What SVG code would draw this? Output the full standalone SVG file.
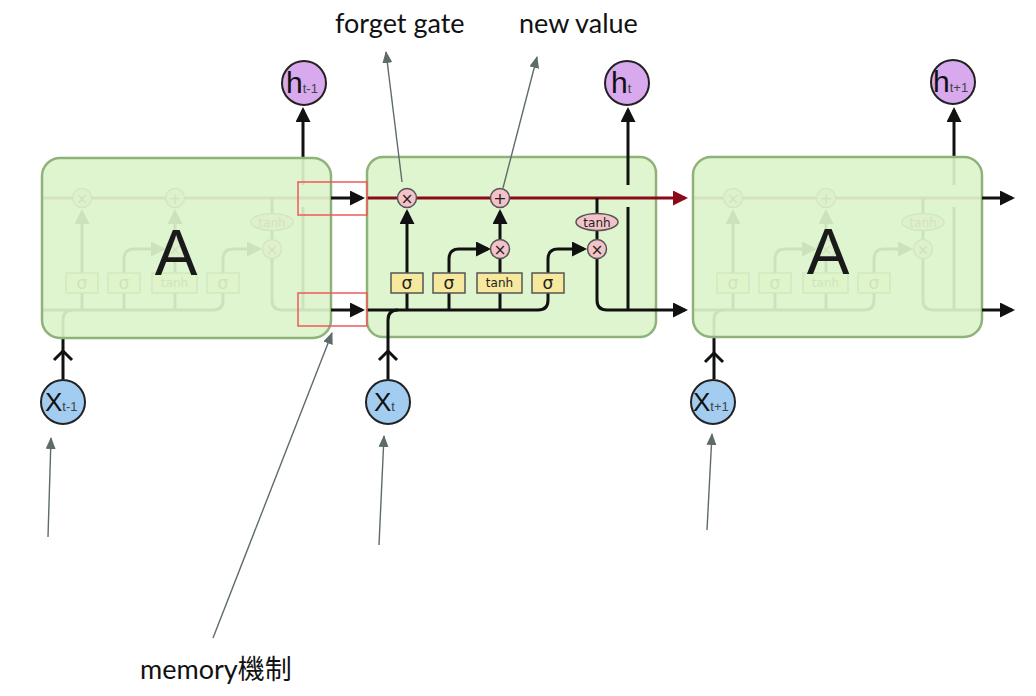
<svg xmlns="http://www.w3.org/2000/svg" xmlns:xlink="http://www.w3.org/1999/xlink" width="1036" height="696" viewBox="0 0 1036 696">
<style>
.ln{fill:none;stroke:#111;stroke-width:3}
.red{stroke:#8b0a1a}
.gate{fill:#f6e89c;stroke:#555;stroke-width:1.5}
.op{fill:#f4c3c9;stroke:#555;stroke-width:1.5}
.gt{font-family:"DejaVu Sans",sans-serif;fill:#222;text-anchor:middle}
.box{stroke:#8fb27a;stroke-width:2.5}
.A{font-family:"Liberation Sans",Arial,sans-serif;font-size:64px;fill:#1a1a1a;text-anchor:middle}
.hc{fill:#d9a9ee;stroke:#222;stroke-width:2}
.xc{fill:#a2cdf0;stroke:#222;stroke-width:2}
.big{font-family:"Liberation Sans",Arial,sans-serif;fill:#111}
.sub{font-size:13px;fill:#444}
.ann{fill:none;stroke:#5f6b6b;stroke-width:1.4;marker-end:url(#ga)}
.lab{font-family:Lato,"Noto Sans CJK TC",sans-serif;font-size:27px;fill:#111}
.rb{fill:none;stroke:#ef5a5a;stroke-width:1.5}
</style>
<defs>
<marker id="ah" markerUnits="userSpaceOnUse" markerWidth="16" markerHeight="16" refX="12" refY="7.5" orient="auto"><path d="M0,0 L15,7.5 L0,15 z" fill="#111"/></marker>
<marker id="ahr" markerUnits="userSpaceOnUse" markerWidth="16" markerHeight="16" refX="12" refY="7.5" orient="auto"><path d="M0,0 L15,7.5 L0,15 z" fill="#8b0a1a"/></marker>
<marker id="ga" markerUnits="userSpaceOnUse" markerWidth="14" markerHeight="12" refX="11" refY="5" orient="auto"><path d="M0,0 L12,5 L0,10 z" fill="#5f6b6b"/></marker>
<g id="core">
<path class="ln red" d="M367,198 H656"/>
<path class="ln" d="M367,310 H538 Q548,310 548,300 V293"/>
<path class="ln" d="M407,293 V310 M449,293 V310 M500,293 V310"/>
<path class="ln" d="M388,379 V320 Q388,310 398,310"/>
<path class="ln" d="M407,273 V212" marker-end="url(#ah)"/>
<path class="ln" d="M449,273 V259 Q449,249 459,249 H488" marker-end="url(#ah)"/>
<path class="ln" d="M500,273 V259"/>
<path class="ln" d="M500,239 V212" marker-end="url(#ah)"/>
<path class="ln" d="M548,273 V259 Q548,249 558,249 H584" marker-end="url(#ah)"/>
<path class="ln" d="M597,198 V214 M597,230 V239"/>
<path class="ln" d="M597,259 V300 Q597,310 607,310 H656"/>
<path class="ln" d="M628,310 V207"/>
<path class="ln" d="M628,185 V110" marker-end="url(#ah)"/>
<rect class="gate" x="391" y="273" width="32" height="20"/>
<rect class="gate" x="433" y="273" width="32" height="20"/>
<rect class="gate" x="477" y="273" width="45" height="20"/>
<rect class="gate" x="532" y="273" width="32" height="20"/>
<text class="gt" x="407" y="289" font-size="17">σ</text>
<text class="gt" x="449" y="289" font-size="17">σ</text>
<text class="gt" x="499.5" y="287" font-size="12">tanh</text>
<text class="gt" x="548" y="289" font-size="17">σ</text>
<circle class="op" cx="407" cy="198" r="9.5"/>
<circle class="op" cx="500" cy="198" r="9.5"/>
<circle class="op" cx="500" cy="249" r="9.5"/>
<circle class="op" cx="597" cy="249" r="9.5"/>
<ellipse class="op" cx="597" cy="222" rx="21" ry="8.5"/>
<text class="gt" x="407" y="203.5" font-size="15">×</text>
<text class="gt" x="500" y="203.5" font-size="16">+</text>
<text class="gt" x="500" y="254.5" font-size="15">×</text>
<text class="gt" x="597" y="254.5" font-size="15">×</text>
<text class="gt" x="597" y="226.5" font-size="12">tanh</text>
</g>
</defs>

<g id="cell-left">
<use xlink:href="#core" href="#core" transform="translate(-325,0)"/>
<rect class="box" x="42" y="158" width="289" height="180" rx="18" fill="#dcf4cc" fill-opacity="0.92"/>
<text class="A" x="176" y="275">A</text>
</g>
<g id="cell-right">
<use xlink:href="#core" href="#core" transform="translate(326,0)"/>
<rect class="box" x="693" y="157" width="289" height="180" rx="18" fill="#dcf4cc" fill-opacity="0.92"/>
<text class="A" x="828" y="274">A</text>
</g>
<g id="cell-mid">
<rect class="box" x="367" y="157" width="289" height="180" rx="16" fill="#dff5d0"/>
<use xlink:href="#core" href="#core"/>
</g>

<g id="connectors">
<path class="ln" d="M331,198 H362" marker-end="url(#ah)"/>
<path class="ln" d="M331,310 H362" marker-end="url(#ah)"/>
<path class="ln red" d="M656,198 H685" marker-end="url(#ahr)"/>
<path class="ln" d="M656,310 H685" marker-end="url(#ah)"/>
<path class="ln" d="M982,198 H1012" marker-end="url(#ah)"/>
<path class="ln" d="M982,310 H1012" marker-end="url(#ah)"/>
<polyline class="ln" points="54,360 63,351 72,360"/>
<polyline class="ln" points="379,360 388,351 397,360"/>
<polyline class="ln" points="705,362 714,353 723,362"/>
<path class="ann" d="M48,537 L51,438"/>
<path class="ann" d="M379,545 L384,436"/>
<path class="ann" d="M707,530 L712,434"/>
<path class="ann" d="M213,638 L332,333"/>
<path class="ann" d="M402,182 L386,52"/>
<path class="ann" d="M503,188 L537,57"/>
</g>

<g id="h-prev"><circle class="hc" cx="304" cy="83" r="22"/><text class="big" x="286" y="93" font-size="30">h<tspan class="sub">t-1</tspan></text></g>
<g id="h-cur"><circle class="hc" cx="627" cy="83" r="22"/><text class="big" x="611" y="93" font-size="30">h<tspan class="sub">t</tspan></text></g>
<g id="h-next"><circle class="hc" cx="953" cy="82" r="22"/><text class="big" x="933" y="92" font-size="30">h<tspan class="sub">t+1</tspan></text></g>
<g id="x-prev"><circle class="xc" cx="63" cy="402" r="22"/><text class="big" x="45" y="411" font-size="26">X<tspan class="sub">t-1</tspan></text></g>
<g id="x-cur"><circle class="xc" cx="388" cy="402" r="22"/><text class="big" x="374" y="411" font-size="26">X<tspan class="sub">t</tspan></text></g>
<g id="x-next"><circle class="xc" cx="713" cy="402" r="22"/><text class="big" x="693" y="411" font-size="26">X<tspan class="sub">t+1</tspan></text></g>

<g id="labels">
<text class="lab" x="335" y="33">forget gate</text>
<text class="lab" x="519" y="33">new value</text>
<text class="lab" x="140" y="679">memory機制</text>
</g>

<g id="highlights">
<rect class="rb" x="298" y="182" width="69" height="33"/>
<rect class="rb" x="298" y="293" width="69" height="33"/>
</g>
</svg>
